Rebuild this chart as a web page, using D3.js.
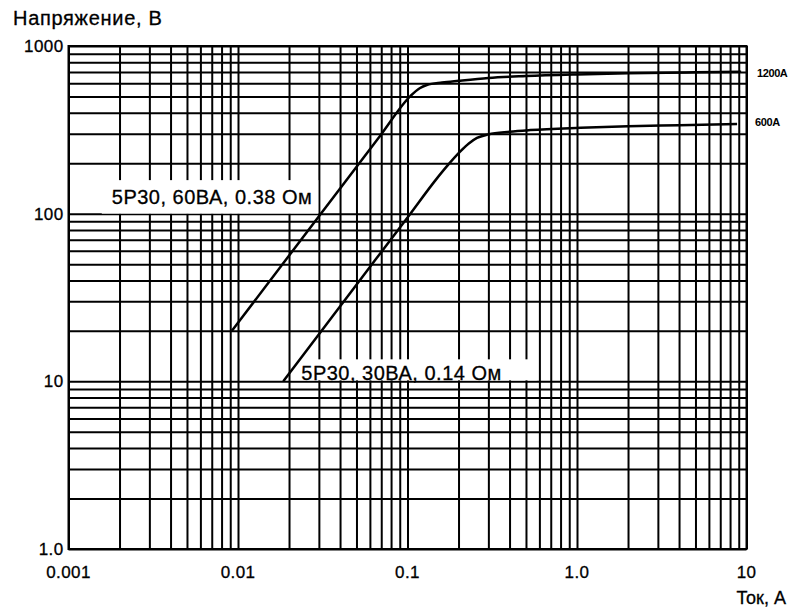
<!DOCTYPE html>
<html><head><meta charset="utf-8">
<script src="https://cdn.jsdelivr.net/npm/d3@7"></script>
<style>
html,body{margin:0;padding:0;background:#fff;}
svg{display:block;font-family:"Liberation Sans",Arial,sans-serif;}
</style></head>
<body><svg id="chart" width="794" height="611"></svg>
<script>
// ---- data ----
const xTickValues = [0.001, 0.01, 0.1, 1, 10];
const xTickLabels = ["0.001", "0.01", "0.1", "1.0", "10"];
const yTickValues = [1, 10, 100, 1000];
const yTickLabels = ["1.0", "10", "100", "1000"];

const curve60Current = [0.0092, 0.0305, 0.069, 0.104, 0.118, 0.13, 0.16, 0.2, 0.3, 0.5, 1.0, 2.0, 5.0, 9.3];
const curve60Voltage = [20, 98.5, 292, 503, 560, 585, 605, 620, 645, 662, 677, 688, 697, 703];
const curve30Current = [0.0185, 0.05, 0.104, 0.146, 0.171, 0.205, 0.23, 0.257, 0.3, 0.4, 0.53, 1.05, 2.0, 4.0, 8.8];
const curve30Voltage = [10, 37.7, 100, 158, 192, 235, 262, 283, 297, 308, 315, 325, 332, 337, 343];

const seriesNames = ["5P30, 60ВА, 0.38 Ом", "5P30, 30ВА, 0.14 Ом"];
const endLabels = ["1200A", "600A"];
const yTitle = "Напряжение, В";
const xTitle = "Ток, А";

// ---- layout ----
const pLeft = 68.5, pRight = 746.5, pTop = 46, pBottom = 549;
const svg = d3.select("#chart");
const x = d3.scaleLog().domain([0.001, 10]).range([pLeft, pRight]);
const y = d3.scaleLog().domain([1, 1000]).range([pBottom, pTop]);

const grid = svg.append("g");
// vertical grid
grid.append("g").attr("transform", `translate(0,${pBottom})`)
  .call(d3.axisBottom(x).ticks(40).tickSize(-(pBottom - pTop)).tickFormat(""))
  .call(g => g.select(".domain").remove())
  .call(g => g.selectAll(".tick line").attr("stroke", "#000").attr("stroke-width", 2));
// horizontal grid
grid.append("g").attr("transform", `translate(${pLeft},0)`)
  .call(d3.axisLeft(y).ticks(30).tickSize(-(pRight - pLeft)).tickFormat(""))
  .call(g => g.select(".domain").remove())
  .call(g => g.selectAll(".tick line").attr("stroke", "#000").attr("stroke-width", 2));

// frame
svg.append("rect").attr("x", pLeft).attr("y", pTop).attr("width", pRight - pLeft).attr("height", pBottom - pTop)
  .attr("fill", "none").attr("stroke", "#000").attr("stroke-width", 2);

// label boxes and text
function boxedLabel(tx, ty, text, padL, padR, boxTop, boxBottom) {
  const g = svg.append("g");
  const r = g.append("rect").attr("fill", "#fff");
  const t = g.append("text").attr("x", tx).attr("y", ty).attr("font-size", 20)
    .attr("letter-spacing", 0.5).attr("fill", "#000").attr("stroke", "#000").attr("stroke-width", 0.3).text(text);
  const b = t.node().getBBox();
  r.attr("x", b.x - padL).attr("y", boxTop).attr("width", b.width + padL + padR).attr("height", boxBottom - boxTop);
}

// curves
const line = d3.line().x(d => x(d[0])).y(d => y(d[1])).curve(d3.curveMonotoneX);
const c60 = curve60Current.map((c, i) => [c, curve60Voltage[i]]);
const c30 = curve30Current.map((c, i) => [c, curve30Voltage[i]]);

boxedLabel(x(0.0018), y(114), seriesNames[0], 10, 6, y(114) - 24, y(100));
boxedLabel(x(c30[0][0]) + 18, y(10) - 1, seriesNames[1], 10, 35, y(10) - 22, y(10) - 1);

svg.append("path").datum(c60).attr("d", line).attr("fill", "none").attr("stroke", "#000").attr("stroke-width", 2.5);
svg.append("path").datum(c30).attr("d", line).attr("fill", "none").attr("stroke", "#000").attr("stroke-width", 2.5);

// end labels
svg.append("text").attr("x", 757).attr("y", y(c60[c60.length - 1][1]) + 5).attr("font-size", 11).attr("font-weight", "bold")
  .attr("letter-spacing", -0.4).text(endLabels[0]);
svg.append("text").attr("x", 755).attr("y", y(c30[c30.length - 1][1]) + 2).attr("font-size", 11).attr("font-weight", "bold")
  .attr("letter-spacing", -0.4).text(endLabels[1]);

// tick labels
svg.append("g").selectAll("text").data(xTickValues).join("text")
  .attr("x", d => x(d)).attr("y", pBottom + 29).attr("text-anchor", "middle").attr("font-size", 17)
  .attr("letter-spacing", 0.4).attr("stroke", "#000").attr("stroke-width", 0.3)
  .text((d, i) => xTickLabels[i]);
svg.append("g").selectAll("text").data(yTickValues).join("text")
  .attr("x", pLeft - 5).attr("y", d => y(d) + 6).attr("text-anchor", "end").attr("font-size", 17)
  .attr("letter-spacing", 0.4).attr("stroke", "#000").attr("stroke-width", 0.3)
  .text((d, i) => yTickLabels[i]);

// axis titles
svg.append("text").attr("x", 13).attr("y", 25).attr("font-size", 20).attr("letter-spacing", 0.7)
  .attr("stroke", "#000").attr("stroke-width", 0.3).text(yTitle);
svg.append("text").attr("x", 786).attr("y", 604).attr("text-anchor", "end").attr("font-size", 18)
  .attr("stroke", "#000").attr("stroke-width", 0.3).text(xTitle);
</script></body></html>
